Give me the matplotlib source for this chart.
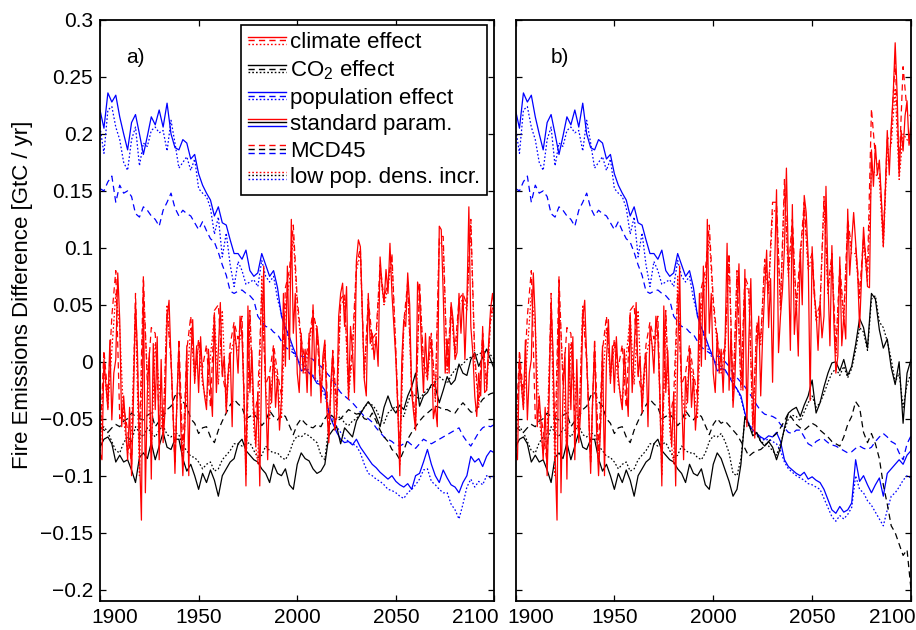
import numpy as np
import matplotlib
matplotlib.use('Agg')
import matplotlib.pyplot as plt
import matplotlib.transforms as mtransforms
from matplotlib.lines import Line2D
from matplotlib.legend_handler import HandlerBase

plt.rcParams['font.family'] = ['Liberation Sans', 'DejaVu Sans']
plt.rcParams['mathtext.fontset'] = 'custom'
plt.rcParams['mathtext.rm'] = 'Liberation Sans'
plt.rcParams['lines.scale_dashes'] = False

# years: red solid is annual, everything else every 2 years
yr1_hist = np.arange(1900, 2006)
yr1_fut = np.arange(2006, 2101)
yr2_hist = np.arange(1900, 2005, 2)
yr2_fut = np.arange(2006, 2101, 2)

# ---- climate effect (red), standard param, annual ----
clim_std_hist = [
    -0.080, -0.086, 0.002, -0.020, -0.042, 0.019, -0.051, -0.010, 0.002, 0.078,
    0.037, -0.057, -0.030, -0.057, -0.086, -0.040, -0.100, -0.030, 0.052, 0.008,
    -0.080, -0.139, 0.072, -0.115, -0.027, 0.008, -0.103, 0.016, -0.042, 0.022,
    -0.086, 0.002, -0.071, -0.042, 0.037, 0.054, 0.002, -0.042, -0.098, -0.033,
    0.014, -0.060, -0.100, -0.057, 0.014, -0.100, 0.002, 0.037, -0.019, 0.014,
    -0.027, 0.022, -0.013, -0.030, -0.042, 0.011, -0.020, -0.048, 0.043, -0.027,
    0.010, 0.052, -0.013, 0.005, -0.045, -0.010, 0.008, -0.057, 0.031, 0.016,
    -0.010, 0.040, 0.022, -0.030, -0.109, 0.049, -0.027, 0.010, -0.042, -0.074,
    -0.027, -0.109, 0.002, 0.084, -0.027, -0.086, -0.013, -0.036, 0.011, -0.040,
    -0.013, -0.060, -0.033, 0.060, -0.004, 0.084, 0.002, 0.125, 0.025, 0.060,
    -0.010, -0.027, 0.025, -0.010, 0.011, -0.027]
clim_std_fut_a = [
    0.025, -0.030, 0.050, -0.016,
    0.031, 0.011, -0.036, 0.005, 0.019, -0.042, -0.071, -0.020, 0.008, -0.060,
    -0.045, 0.040, 0.060, 0.069, 0.031, 0.066, -0.033, 0.031, 0.010, -0.027,
    0.089, 0.107, 0.101, 0.043, -0.016, -0.030, 0.060, 0.016, 0.025, 0.002,
    0.022, -0.004, 0.092, 0.066, 0.052, 0.081, 0.060, 0.104, 0.060, 0.031,
    0.002, -0.042, -0.100, 0.002, 0.037, 0.031, 0.078, 0.050, -0.027, -0.045,
    -0.060, 0.070, 0.060, 0.010, -0.027, 0.025, -0.016, 0.022, 0.019, -0.050,
    -0.039, -0.057, 0.119, 0.116, 0.060, -0.010, 0.020, -0.010, 0.052, 0.037,
    0.002, 0.008, 0.060, 0.025, 0.060, 0.002, 0.052, 0.136, 0.031, 0.008,
    -0.030, -0.048, -0.010, -0.030, 0.031, -0.027, -0.025, 0.016, 0.046, 0.060,
    0.045]
clim_std_fut_b = [
    0.020, 0.104, -0.025, 0.027,
    -0.040, -0.012, 0.040, 0.086, 0.010, -0.025, 0.081, -0.057, 0.020, 0.073,
    -0.020, -0.067, 0.010, 0.040, -0.030, 0.024, 0.060, 0.098, 0.030, 0.073,
    -0.018, 0.080, 0.151, 0.008, 0.040, 0.063, 0.100, 0.170, 0.086, 0.010,
    0.138, 0.024, 0.053, 0.005, 0.099, 0.050, 0.146, 0.131, 0.092, -0.034,
    0.101, 0.060, 0.044, 0.010, 0.053, 0.021, 0.040, 0.154, 0.073, 0.014,
    0.102, 0.034, -0.010, 0.005, 0.092, 0.014, 0.040, 0.020, 0.134, 0.076,
    0.105, 0.131, 0.105, 0.079, 0.030, 0.073, 0.118, 0.092, 0.066, 0.065,
    0.186, 0.154, 0.190, 0.164, 0.177, 0.144, 0.102, 0.150, 0.203, 0.164,
    0.206, 0.235, 0.280, 0.235, 0.164, 0.203, 0.185, 0.216, 0.229, 0.190,
    0.210]

# ---- climate effect, MCD45 and low pop. dens. incr., 2-yearly ----
clim_mcd_hist = [
    -0.070, 0.010, -0.030, 0.040, 0.080, -0.050, -0.040, -0.060, -0.090, 0.060,
    -0.070, 0.075, -0.020, 0.030, 0.025, -0.050, -0.060, 0.045, 0.000, -0.090,
    0.020, -0.080, 0.010, 0.040, -0.010, 0.020, -0.005, 0.015, -0.040, 0.045,
    0.050, -0.010, -0.030, 0.015, 0.035, 0.020, 0.040, -0.090, 0.045, -0.050,
    -0.030, 0.060, -0.020, -0.010, 0.015, -0.010, -0.030, 0.065, 0.080, 0.120,
    0.055, 0.020, 0.000]
clim_low_hist = [
    -0.085, -0.005, -0.040, 0.010, 0.060, 0.030, -0.050, -0.080, -0.060, 0.045,
    -0.100, 0.060, -0.010, -0.080, 0.015, -0.020, -0.065, 0.050, 0.005, -0.085,
    0.010, -0.090, -0.020, 0.030, -0.015, 0.015, -0.020, -0.035, 0.005, 0.040,
    -0.020, 0.045, -0.040, 0.005, 0.020, 0.010, 0.030, -0.100, 0.040, -0.060,
    -0.090, 0.075, -0.025, -0.050, 0.005, -0.020, -0.050, 0.050, 0.070, 0.110,
    0.050, 0.015, -0.010]
clim_mcd_fut_a = [
    0.020, 0.045, 0.025, -0.030, 0.015, -0.060, 0.010, -0.040, 0.055, 0.060,
    -0.025, 0.015, 0.085, 0.100, -0.010, 0.055, 0.020, 0.025, 0.085, 0.055,
    0.070, 0.095, 0.010, -0.080, 0.035, 0.070, -0.020, -0.050, 0.070, 0.000,
    -0.010, 0.025, -0.030, 0.110, 0.110, -0.005, 0.050, 0.010, 0.055, 0.060,
    0.050, 0.125, 0.005, -0.035, 0.025, -0.020, 0.040, 0.055]
clim_low_fut_a = [
    0.015, 0.040, 0.030, -0.025, 0.010, -0.065, 0.005, -0.050, 0.050, 0.055,
    -0.030, 0.005, 0.080, 0.095, -0.015, 0.050, 0.010, 0.020, 0.080, 0.050,
    0.065, 0.090, 0.005, -0.090, 0.030, 0.065, -0.025, -0.055, 0.065, -0.005,
    -0.015, 0.020, -0.035, 0.105, 0.100, -0.010, 0.045, 0.005, 0.050, 0.055,
    0.045, 0.120, 0.000, -0.040, 0.020, -0.025, 0.035, 0.050]
clim_mcd_fut_b = [
    0.015, 0.095, -0.030, 0.080, -0.020, 0.075, 0.065, -0.055, 0.035, 0.020,
    0.090, 0.065, 0.140, 0.140, 0.050, 0.160, 0.080, 0.125, 0.050, 0.095,
    0.140, 0.085, 0.095, 0.040, 0.050, 0.145, 0.065, 0.095, 0.010, 0.085,
    0.040, 0.125, 0.100, 0.100, 0.060, 0.110, 0.080, 0.222, 0.180, 0.170,
    0.110, 0.195, 0.200, 0.265, 0.170, 0.259, 0.220, 0.215]
clim_low_fut_b = [
    0.010, 0.090, -0.035, 0.075, -0.025, 0.070, 0.060, -0.060, 0.030, 0.015,
    0.085, 0.060, 0.130, 0.135, 0.045, 0.150, 0.075, 0.120, 0.045, 0.090,
    0.135, 0.080, 0.090, 0.035, 0.045, 0.140, 0.060, 0.090, 0.005, 0.080,
    0.035, 0.120, 0.095, 0.095, 0.055, 0.105, 0.070, 0.170, 0.165, 0.160,
    0.100, 0.185, 0.190, 0.240, 0.160, 0.200, 0.195, 0.190]

# ---- population effect (blue), 2-yearly ----
pop_std_hist = [
    0.221, 0.205, 0.236, 0.228, 0.234, 0.215, 0.200, 0.186, 0.210, 0.217,
    0.200, 0.182, 0.198, 0.215, 0.208, 0.221, 0.206, 0.227, 0.200, 0.188,
    0.186, 0.195, 0.192, 0.178, 0.182, 0.165, 0.155, 0.148, 0.142, 0.128,
    0.136, 0.122, 0.120, 0.107, 0.095, 0.095, 0.090, 0.098, 0.080, 0.075,
    0.078, 0.095, 0.085, 0.075, 0.080, 0.065, 0.040, 0.030, 0.022, 0.012,
    0.004, -0.008, -0.006]
pop_low_hist = [
    0.206, 0.183, 0.221, 0.224, 0.206, 0.195, 0.175, 0.168, 0.195, 0.206,
    0.172, 0.192, 0.189, 0.203, 0.206, 0.201, 0.203, 0.185, 0.212, 0.192,
    0.170, 0.175, 0.180, 0.168, 0.178, 0.152, 0.148, 0.145, 0.135, 0.112,
    0.127, 0.092, 0.113, 0.085, 0.066, 0.088, 0.080, 0.068, 0.070, 0.072,
    0.066, 0.089, 0.075, 0.070, 0.075, 0.055, 0.042, 0.031, 0.018, 0.008,
    0.002, -0.002, -0.004]
pop_mcd_hist = [
    0.152, 0.150, 0.158, 0.163, 0.140, 0.155, 0.148, 0.150, 0.145, 0.130,
    0.127, 0.136, 0.133, 0.128, 0.125, 0.119, 0.133, 0.140, 0.148, 0.135,
    0.128, 0.133, 0.130, 0.128, 0.122, 0.116, 0.123, 0.115, 0.108, 0.105,
    0.096, 0.085, 0.076, 0.062, 0.060, 0.062, 0.063, 0.060, 0.058, 0.054,
    0.040, 0.035, 0.031, 0.030, 0.026, 0.024, 0.018, 0.013, 0.010, 0.008,
    0.006, 0.005, 0.004]
pop_std_fut_a = [
    -0.010, -0.013, -0.019, -0.020, -0.025, -0.045, -0.054, -0.062, -0.068, -0.071,
    -0.070, -0.073, -0.068, -0.075, -0.080, -0.085, -0.090, -0.093, -0.097, -0.100,
    -0.103, -0.100, -0.105, -0.108, -0.110, -0.107, -0.112, -0.100, -0.098, -0.088,
    -0.077, -0.090, -0.100, -0.106, -0.095, -0.102, -0.108, -0.110, -0.115, -0.106,
    -0.100, -0.083, -0.088, -0.085, -0.092, -0.083, -0.078, -0.080]
pop_low_fut_a = [
    -0.008, -0.012, -0.016, -0.022, -0.030, -0.043, -0.050, -0.057, -0.062, -0.067,
    -0.070, -0.072, -0.074, -0.080, -0.090, -0.098, -0.100, -0.103, -0.105, -0.108,
    -0.112, -0.113, -0.115, -0.118, -0.120, -0.115, -0.112, -0.108, -0.103, -0.095,
    -0.094, -0.105, -0.108, -0.112, -0.115, -0.115, -0.125, -0.130, -0.138, -0.125,
    -0.110, -0.103, -0.110, -0.105, -0.108, -0.100, -0.102, -0.100]
pop_mcd_fut_a = [
    0.004, 0.002, -0.002, -0.004, -0.008, -0.012, -0.016, -0.022, -0.027, -0.030,
    -0.033, -0.036, -0.040, -0.044, -0.048, -0.050, -0.053, -0.058, -0.062, -0.066,
    -0.068, -0.070, -0.073, -0.074, -0.072, -0.070, -0.073, -0.076, -0.072, -0.068,
    -0.070, -0.072, -0.070, -0.068, -0.066, -0.064, -0.062, -0.060, -0.058, -0.065,
    -0.070, -0.074, -0.068, -0.062, -0.058, -0.056, -0.057, -0.055]
pop_std_fut_b = [
    -0.007, -0.013, -0.019, -0.024, -0.030, -0.045, -0.055, -0.060, -0.063, -0.066,
    -0.068, -0.065, -0.066, -0.062, -0.070, -0.086, -0.092, -0.095, -0.098, -0.100,
    -0.097, -0.103, -0.101, -0.104, -0.106, -0.112, -0.121, -0.130, -0.133, -0.127,
    -0.132, -0.130, -0.124, -0.086, -0.105, -0.100, -0.108, -0.115, -0.108, -0.102,
    -0.118, -0.098, -0.094, -0.090, -0.086, -0.090, -0.082, -0.078]
pop_low_fut_b = [
    -0.008, -0.012, -0.018, -0.024, -0.032, -0.046, -0.054, -0.060, -0.064, -0.067,
    -0.069, -0.068, -0.070, -0.072, -0.078, -0.088, -0.094, -0.097, -0.100, -0.102,
    -0.104, -0.107, -0.108, -0.110, -0.112, -0.120, -0.128, -0.136, -0.140, -0.135,
    -0.138, -0.134, -0.128, -0.100, -0.112, -0.115, -0.122, -0.126, -0.132, -0.138,
    -0.144, -0.130, -0.118, -0.115, -0.110, -0.104, -0.100, -0.102]
pop_mcd_fut_b = [
    0.000, -0.004, -0.010, -0.014, -0.018, -0.022, -0.027, -0.032, -0.038, -0.043,
    -0.046, -0.047, -0.048, -0.050, -0.055, -0.058, -0.062, -0.063, -0.060, -0.060,
    -0.066, -0.072, -0.074, -0.070, -0.068, -0.068, -0.071, -0.073, -0.074, -0.076,
    -0.078, -0.080, -0.079, -0.076, -0.074, -0.076, -0.077, -0.075, -0.070, -0.066,
    -0.063, -0.066, -0.070, -0.072, -0.080, -0.086, -0.072, -0.065]

# ---- CO2 effect (black), 2-yearly ----
co2_std_hist = [
    -0.075, -0.068, -0.066, -0.072, -0.088, -0.082, -0.088, -0.086, -0.095, -0.106,
    -0.084, -0.080, -0.085, -0.071, -0.086, -0.074, -0.062, -0.075, -0.077, -0.068,
    -0.068, -0.085, -0.096, -0.090, -0.100, -0.112, -0.098, -0.106, -0.095, -0.104,
    -0.118, -0.100, -0.094, -0.088, -0.085, -0.072, -0.068, -0.078, -0.082, -0.086,
    -0.088, -0.094, -0.098, -0.106, -0.090, -0.098, -0.100, -0.094, -0.108, -0.112,
    -0.090, -0.080, -0.085]
co2_low_hist = [
    -0.060, -0.057, -0.062, -0.070, -0.078, -0.080, -0.071, -0.066, -0.070, -0.057,
    -0.062, -0.066, -0.058, -0.062, -0.066, -0.060, -0.056, -0.064, -0.066, -0.062,
    -0.064, -0.074, -0.078, -0.083, -0.084, -0.088, -0.094, -0.090, -0.088, -0.096,
    -0.094, -0.086, -0.082, -0.078, -0.072, -0.072, -0.074, -0.072, -0.071, -0.078,
    -0.084, -0.082, -0.074, -0.078, -0.080, -0.080, -0.084, -0.086, -0.080, -0.070,
    -0.065, -0.066, -0.063]
co2_mcd_hist = [
    -0.057, -0.060, -0.062, -0.058, -0.055, -0.057, -0.052, -0.050, -0.045, -0.048,
    -0.050, -0.051, -0.047, -0.045, -0.057, -0.052, -0.048, -0.042, -0.039, -0.030,
    -0.027, -0.035, -0.039, -0.050, -0.054, -0.063, -0.058, -0.057, -0.066, -0.071,
    -0.060, -0.052, -0.045, -0.038, -0.033, -0.037, -0.040, -0.050, -0.048, -0.046,
    -0.050, -0.056, -0.052, -0.043, -0.048, -0.051, -0.046, -0.048, -0.056, -0.064,
    -0.055, -0.050, -0.054]
co2_std_fut_a = [
    -0.087, -0.094, -0.098, -0.096, -0.090, -0.065, -0.060, -0.057, -0.072, -0.058,
    -0.062, -0.066, -0.052, -0.046, -0.040, -0.035, -0.040, -0.048, -0.057, -0.040,
    -0.030, -0.040, -0.045, -0.038, -0.042, -0.030, -0.022, -0.010, -0.039, -0.030,
    -0.027, -0.020, -0.022, -0.036, -0.025, -0.013, -0.020, -0.016, -0.002, -0.010,
    -0.012, 0.002, 0.008, -0.004, 0.004, 0.011, 0.002, -0.007]
co2_low_fut_a = [
    -0.065, -0.068, -0.071, -0.082, -0.086, -0.056, -0.052, -0.050, -0.048, -0.054,
    -0.056, -0.052, -0.050, -0.045, -0.040, -0.036, -0.038, -0.042, -0.050, -0.054,
    -0.045, -0.042, -0.039, -0.044, -0.048, -0.036, -0.027, -0.030, -0.033, -0.028,
    -0.024, -0.022, -0.018, -0.013, -0.016, -0.019, -0.012, -0.007, -0.004, -0.002,
    0.002, 0.004, 0.005, 0.007, 0.008, 0.011, 0.006, 0.002]
co2_mcd_fut_a = [
    -0.057, -0.058, -0.055, -0.057, -0.050, -0.045, -0.048, -0.052, -0.050, -0.046,
    -0.042, -0.044, -0.046, -0.045, -0.050, -0.051, -0.045, -0.052, -0.060, -0.066,
    -0.070, -0.077, -0.080, -0.086, -0.078, -0.068, -0.062, -0.057, -0.052, -0.048,
    -0.045, -0.042, -0.039, -0.040, -0.042, -0.042, -0.044, -0.045, -0.040, -0.036,
    -0.040, -0.044, -0.045, -0.038, -0.033, -0.030, -0.028, -0.027]
co2_std_fut_b = [
    -0.095, -0.105, -0.118, -0.112, -0.090, -0.048, -0.055, -0.065, -0.062, -0.070,
    -0.074, -0.070, -0.075, -0.086, -0.075, -0.058, -0.045, -0.042, -0.040, -0.048,
    -0.038, -0.030, -0.016, -0.045, -0.036, -0.022, -0.010, -0.001, 0.000, -0.008,
    0.002, -0.012, -0.004, 0.015, 0.038, 0.030, 0.012, 0.060, 0.055, 0.028,
    0.012, 0.020, -0.005, -0.020, 0.000, -0.054, -0.010, 0.002]
co2_low_fut_b = [
    -0.070, -0.080, -0.098, -0.100, -0.085, -0.050, -0.056, -0.062, -0.064, -0.070,
    -0.072, -0.074, -0.078, -0.082, -0.072, -0.060, -0.050, -0.047, -0.048, -0.052,
    -0.044, -0.036, -0.030, -0.040, -0.036, -0.028, -0.018, -0.010, -0.006, -0.012,
    -0.004, -0.014, -0.006, 0.010, 0.030, 0.026, 0.010, 0.055, 0.058, 0.035,
    0.030, 0.018, 0.002, -0.018, -0.010, -0.040, -0.020, -0.010]
co2_mcd_fut_b = [
    -0.052, -0.056, -0.060, -0.064, -0.070, -0.076, -0.083, -0.080, -0.078, -0.077,
    -0.074, -0.070, -0.066, -0.063, -0.058, -0.052, -0.045, -0.050, -0.055, -0.058,
    -0.060, -0.057, -0.054, -0.056, -0.060, -0.063, -0.066, -0.070, -0.072, -0.074,
    -0.066, -0.055, -0.048, -0.035, -0.040, -0.062, -0.071, -0.063, -0.072, -0.085,
    -0.108, -0.125, -0.144, -0.150, -0.160, -0.170, -0.165, -0.200]

yticks = [-0.2, -0.15, -0.1, -0.05, 0, 0.05, 0.1, 0.15, 0.2, 0.25, 0.3]
ytick_labels = ['\u22120.2', '\u22120.15', '\u22120.1', '\u22120.05', '0',
                '0.05', '0.1', '0.15', '0.2', '0.25', '0.3']
xticks = [1900, 1950, 2000, 2050, 2100]

SOLID = '-'
DASH = (0, (4.5, 3))
DOT = (0, (1.2, 1.5))

yr1 = np.concatenate([yr1_hist, yr1_fut])
yr2 = np.concatenate([yr2_hist, yr2_fut])
join = np.concatenate

panels = {
    'a': [
        (yr2, join([pop_low_hist, pop_low_fut_a]), 'blue', DOT),
        (yr2, join([pop_mcd_hist, pop_mcd_fut_a]), 'blue', DASH),
        (yr2, join([pop_std_hist, pop_std_fut_a]), 'blue', SOLID),
        (yr2, join([co2_low_hist, co2_low_fut_a]), 'black', DOT),
        (yr2, join([co2_mcd_hist, co2_mcd_fut_a]), 'black', DASH),
        (yr2, join([co2_std_hist, co2_std_fut_a]), 'black', SOLID),
        (yr2, join([clim_low_hist, clim_low_fut_a]), 'red', DOT),
        (yr2, join([clim_mcd_hist, clim_mcd_fut_a]), 'red', DASH),
        (yr1, join([clim_std_hist, clim_std_fut_a]), 'red', SOLID),
    ],
    'b': [
        (yr2, join([pop_low_hist, pop_low_fut_b]), 'blue', DOT),
        (yr2, join([pop_mcd_hist, pop_mcd_fut_b]), 'blue', DASH),
        (yr2, join([pop_std_hist, pop_std_fut_b]), 'blue', SOLID),
        (yr2, join([co2_low_hist, co2_low_fut_b]), 'black', DOT),
        (yr2, join([co2_mcd_hist, co2_mcd_fut_b]), 'black', DASH),
        (yr2, join([co2_std_hist, co2_std_fut_b]), 'black', SOLID),
        (yr2, join([clim_low_hist, clim_low_fut_b]), 'red', DOT),
        (yr2, join([clim_mcd_hist, clim_mcd_fut_b]), 'red', DASH),
        (yr1, join([clim_std_hist, clim_std_fut_b]), 'red', SOLID),
    ],
}


class StackedKey:
    def __init__(self, specs):
        self.specs = specs


class StackedHandler(HandlerBase):
    # three short lines stacked on top of each other, like the original legend
    def create_artists(self, legend, orig_handle, xdescent, ydescent,
                       width, height, fontsize, trans):
        y0 = (height - ydescent) / 2.0
        out = []
        for i, (c, ls) in enumerate(orig_handle.specs):
            y = y0 + (1 - i) * 2.6
            ln = Line2D([-xdescent, width - xdescent], [y, y], color=c,
                        linestyle=ls, linewidth=1.0, transform=trans)
            out.append(ln)
        return out


fig = plt.figure(figsize=(9.16, 6.3), dpi=100)
ax_a = fig.add_axes([100 / 916, 29 / 630, 394.5 / 916, 581 / 630])
ax_b = fig.add_axes([515.5 / 916, 29 / 630, 395.5 / 916, 581 / 630])

for name, ax in (('a', ax_a), ('b', ax_b)):
    for x, y, c, ls in panels[name]:
        ax.plot(x, y, color=c, linestyle=ls, linewidth=0.9)
    ax.set_xlim(1900, 2100)
    ax.set_ylim(-0.21, 0.3)
    ax.set_xticks(xticks)
    ax.set_xticklabels([str(t) for t in xticks])
    ax.set_yticks(yticks)
    ax.tick_params(direction='in', length=4, width=0.9, labelsize=15,
                   top=True, right=True, pad=5)
    for sp in ax.spines.values():
        sp.set_linewidth(1.3)
    labs = ax.get_xticklabels()
    labs[0].set_transform(labs[0].get_transform() +
                          mtransforms.ScaledTranslation(0.15, 0, fig.dpi_scale_trans))
    labs[-1].set_transform(labs[-1].get_transform() +
                           mtransforms.ScaledTranslation(-0.19, 0, fig.dpi_scale_trans))

ax_a.set_yticklabels(ytick_labels)
ax_b.set_yticklabels([])
ax_a.set_ylabel('Fire Emissions Difference [GtC / yr]', fontsize=16)
ax_a.yaxis.set_label_coords(-0.17, 0.527)

ax_a.text(0.089, 0.936, 'a)', transform=ax_a.transAxes, fontsize=15,
          ha='center', va='center')
ax_b.text(0.1125, 0.936, 'b)', transform=ax_b.transAxes, fontsize=15,
          ha='center', va='center')

keys = [
    StackedKey([('red', SOLID), ('red', DASH), ('red', DOT)]),
    StackedKey([('black', SOLID), ('black', DASH), ('black', DOT)]),
    StackedKey([('blue', SOLID), ('blue', DASH), ('blue', DOT)]),
    StackedKey([('red', SOLID), ('black', SOLID), ('blue', SOLID)]),
    StackedKey([('red', DASH), ('black', DASH), ('blue', DASH)]),
    StackedKey([('red', DOT), ('black', DOT), ('blue', DOT)]),
]
key_labels = ['climate effect', 'CO$_{\\rm 2}$ effect', 'population effect',
              'standard param.', 'MCD45', 'low pop. dens. incr.']
leg = ax_a.legend(keys, key_labels, handler_map={StackedKey: StackedHandler()},
                  loc='upper right', bbox_to_anchor=(0.981, 0.991),
                  borderaxespad=0, fontsize=16, handlelength=1.7,
                  handletextpad=0.2, labelspacing=0.25, borderpad=0.3,
                  fancybox=False, framealpha=1, edgecolor='black')
leg.get_frame().set_linewidth(1.2)

fig.savefig('out.png', dpi=100)
